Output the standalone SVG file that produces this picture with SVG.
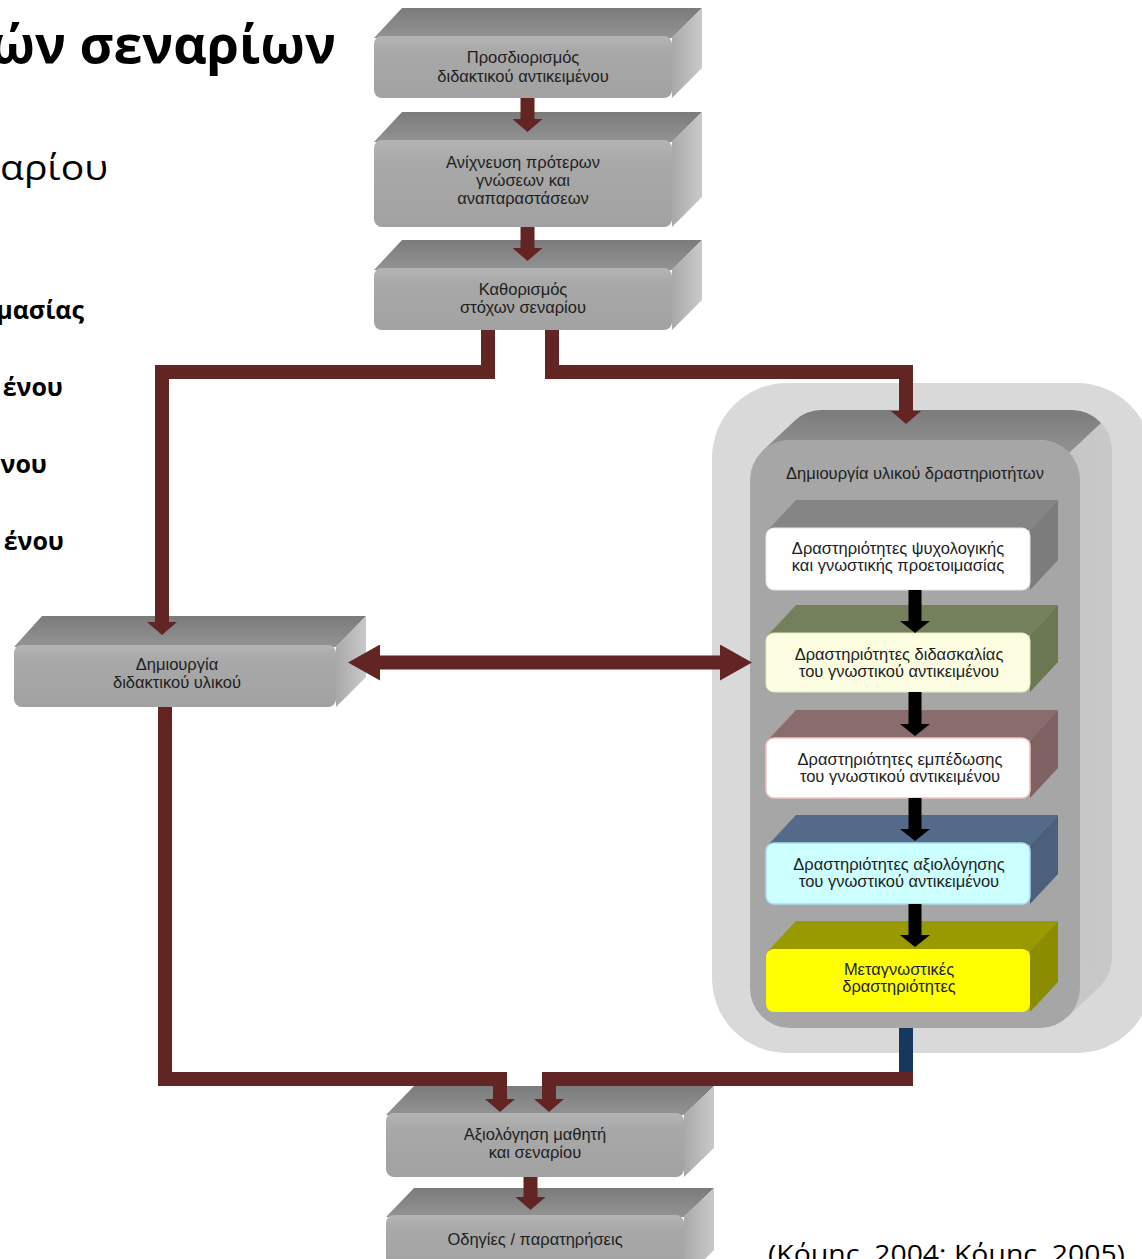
<svg xmlns="http://www.w3.org/2000/svg" width="1142" height="1259" viewBox="0 0 1142 1259">
<defs>
<linearGradient id="gTop" x1="0" y1="0" x2="0" y2="1"><stop offset="0" stop-color="#7b7b7b"/><stop offset="1" stop-color="#939393"/></linearGradient>
<linearGradient id="gSide" x1="0" y1="0" x2="1" y2="0"><stop offset="0" stop-color="#a9a9a9"/><stop offset="1" stop-color="#c9c9c9"/></linearGradient>
<linearGradient id="gFront" x1="0" y1="0" x2="0" y2="1"><stop offset="0" stop-color="#b4b4b4"/><stop offset="0.25" stop-color="#a8a8a8"/><stop offset="1" stop-color="#a2a2a2"/></linearGradient>
<marker id="ah" viewBox="0 0 13 30" refX="0" refY="15" markerWidth="13" markerHeight="30" markerUnits="userSpaceOnUse" orient="auto"><path d="M0,0 L13,15 L0,30 Z" fill="#632523"/></marker>
<marker id="ahBig" viewBox="0 0 32 36" refX="0" refY="18" markerWidth="32" markerHeight="36" markerUnits="userSpaceOnUse" orient="auto-start-reverse"><path d="M0,0 L32,18 L0,36 Z" fill="#632523"/></marker>
<marker id="ahK" viewBox="0 0 12 30" refX="0" refY="15" markerWidth="12" markerHeight="30" markerUnits="userSpaceOnUse" orient="auto"><path d="M0,0 L12,15 L0,30 Z" fill="#000"/></marker>
</defs>
<style>
.top{fill:url(#gTop)}
.side{fill:url(#gSide)}
.front{fill:url(#gFront)}
.t{font-family:"Liberation Sans",Arial,sans-serif;font-size:16.5px;fill:#1e1e1e;text-anchor:middle}
.slide{font-family:"Open Sans","Liberation Sans",sans-serif;fill:#000}
.b{font-weight:bold;font-size:25px;text-anchor:end}
.con{fill:none;stroke:#632523;stroke-width:14;stroke-linejoin:miter}
.kcon{fill:none;stroke:#000;stroke-width:13}
</style>

<g id="slide-text">
<text class="slide" x="336" y="63" font-size="52" font-weight="bold" text-anchor="end">ών σεναρίων</text>
<text class="slide" x="0" y="180" font-size="35" textLength="108" lengthAdjust="spacingAndGlyphs">αρίου</text>
<text class="slide b" x="84" y="319">μασίας</text>
<text class="slide b" x="63" y="396">ένου</text>
<text class="slide b" x="47" y="473">νου</text>
<text class="slide b" x="64" y="550">ένου</text>
<text class="slide" x="768" y="1263" font-size="25" textLength="357" lengthAdjust="spacingAndGlyphs">(Κόμης, 2004; Κόμης, 2005)</text>
</g>

<g id="container">
<rect x="712" y="383" width="440" height="670" rx="75" fill="#d9d9d9"/>
<rect x="782" y="410" width="330" height="588" rx="40" fill="url(#gSide)"/>
<polygon points="762.8,450.8 794.8,420.8 1099.2,987.2 1067.2,1017.2" fill="url(#gSide)"/>
<path d="M762.8,450.8 L794.8,420.8 A40,40 0 0 1 822,410 L1072,410 A40,40 0 0 1 1101,423 L1069,453 A40,40 0 0 0 1040,440 L790,440 A40,40 0 0 0 762.8,450.8 Z" fill="url(#gTop)"/>
<rect x="750" y="440" width="330" height="588" rx="40" fill="#a6a6a6"/>
<text class="t" x="915" y="479">Δημιουργία υλικού δραστηριοτήτων</text>
</g>

<g id="n1">
<polygon class="top" points="374,38 402,8 702,8 672,38"/>
<polygon class="side" points="672,38 702,8 702,68 672,98"/>
<rect class="front" x="374" y="36" width="298" height="62" rx="8"/>
<text class="t" x="523" y="63">Προσδιορισμός</text>
<text class="t" x="523" y="82">διδακτικού αντικειμένου</text>
</g>

<g id="n2">
<polygon class="top" points="374,142 402,112 702,112 672,142"/>
<polygon class="side" points="672,142 702,112 702,197 672,227"/>
<rect class="front" x="374" y="140" width="298" height="87" rx="8"/>
<text class="t" x="523" y="168">Ανίχνευση πρότερων</text>
<text class="t" x="523" y="186">γνώσεων και</text>
<text class="t" x="523" y="204">αναπαραστάσεων</text>
</g>

<g id="n3">
<polygon class="top" points="374,270 402,240 702,240 672,270"/>
<polygon class="side" points="672,270 702,240 702,300 672,330"/>
<rect class="front" x="374" y="268" width="298" height="62" rx="8"/>
<text class="t" x="523" y="295">Καθορισμός</text>
<text class="t" x="523" y="313">στόχων σεναρίου</text>
</g>

<g id="n4">
<polygon class="top" points="14,647 42,616 366,616 336,647"/>
<polygon class="side" points="336,647 366,616 366,677 336,707"/>
<rect class="front" x="14" y="645" width="322" height="62" rx="8"/>
<text class="t" x="177" y="670">Δημιουργία</text>
<text class="t" x="177" y="688">διδακτικού υλικού</text>
</g>

<g id="a1">
<polygon points="768,530 796,500 1058,500 1030,530" fill="#858585"/>
<polygon points="1030,530 1058,500 1058,560 1030,590" fill="#7c7c7c"/>
<rect x="766" y="528" width="264" height="62" rx="8" fill="#fff" stroke="#e6e6e6"/>
<text class="t" x="898" y="554">Δραστηριότητες ψυχολογικής</text>
<text class="t" x="898" y="571">και γνωστικής προετοιμασίας</text>
</g>

<g id="a2">
<polygon points="768,635 796,605 1058,605 1030,635" fill="#74805b"/>
<polygon points="1030,635 1058,605 1058,662 1030,692" fill="#6b7753"/>
<rect x="766" y="633" width="264" height="59" rx="8" fill="#fdfde2" stroke="#e2ecbc"/>
<text class="t" x="899" y="660">Δραστηριότητες διδασκαλίας</text>
<text class="t" x="899" y="677">του γνωστικού αντικειμένου</text>
</g>

<g id="a3">
<polygon points="768,740 796,710 1058,710 1030,740" fill="#8b6c6c"/>
<polygon points="1030,740 1058,710 1058,768 1030,798" fill="#806262"/>
<rect x="766" y="738" width="264" height="60" rx="8" fill="#fff" stroke="#f2c4c4" stroke-width="1.5"/>
<text class="t" x="900" y="765">Δραστηριότητες εμπέδωσης</text>
<text class="t" x="900" y="782">του γνωστικού αντικειμένου</text>
</g>

<g id="a4">
<polygon points="768,845 796,815 1058,815 1030,845" fill="#546a89"/>
<polygon points="1030,845 1058,815 1058,874 1030,904" fill="#4c607d"/>
<rect x="766" y="843" width="264" height="61" rx="8" fill="#ccffff" stroke="#a9def0" stroke-width="1.5"/>
<text class="t" x="899" y="870">Δραστηριότητες αξιολόγησης</text>
<text class="t" x="899" y="887">του γνωστικού αντικειμένου</text>
</g>

<g id="a5">
<polygon points="768,951 796,921 1058,921 1030,951" fill="#999900"/>
<polygon points="1030,951 1058,921 1058,982 1030,1012" fill="#8c8c00"/>
<rect x="766" y="949" width="264" height="63" rx="8" fill="#ffff00"/>
<text class="t" x="899" y="975">Μεταγνωστικές</text>
<text class="t" x="899" y="992">δραστηριότητες</text>
</g>

<g id="n5">
<polygon class="top" points="386,1115 414,1086 714,1086 684,1115"/>
<polygon class="side" points="684,1115 714,1086 714,1148 684,1177"/>
<rect class="front" x="386" y="1113" width="298" height="64" rx="8"/>
<text class="t" x="535" y="1140">Αξιολόγηση μαθητή</text>
<text class="t" x="535" y="1158">και σεναρίου</text>
</g>

<g id="n6">
<polygon class="top" points="386,1217 414,1188 714,1188 684,1217"/>
<polygon class="side" points="684,1217 714,1188 714,1250 684,1280"/>
<rect class="front" x="386" y="1215" width="298" height="62" rx="8"/>
<text class="t" x="535" y="1245">Οδηγίες / παρατηρήσεις</text>
</g>

<g id="connectors">
<path class="con" d="M527.5,98 V119" marker-end="url(#ah)"/>
<path class="con" d="M527.5,227 V248" marker-end="url(#ah)"/>
<path class="con" d="M488,330 V372 H162 V622" marker-end="url(#ah)"/>
<path class="con" d="M552,330 V372 H906 V411" marker-end="url(#ah)"/>
<path class="con" d="M380,662.5 H720" marker-start="url(#ahBig)" marker-end="url(#ahBig)"/>
<path class="con" d="M165,707 V1079 H500 V1099" marker-end="url(#ah)"/>
<path d="M906,1028 V1073" fill="none" stroke="#17375e" stroke-width="14"/>
<path class="con" d="M906,1072 V1079 H549 V1099" marker-end="url(#ah)"/>
<path class="con" d="M530.5,1177 V1197" marker-end="url(#ah)"/>
<path class="kcon" d="M915,590 V621" marker-end="url(#ahK)"/>
<path class="kcon" d="M915,692 V724" marker-end="url(#ahK)"/>
<path class="kcon" d="M915,798 V829" marker-end="url(#ahK)"/>
<path class="kcon" d="M915,904 V935" marker-end="url(#ahK)"/>
</g>
</svg>
